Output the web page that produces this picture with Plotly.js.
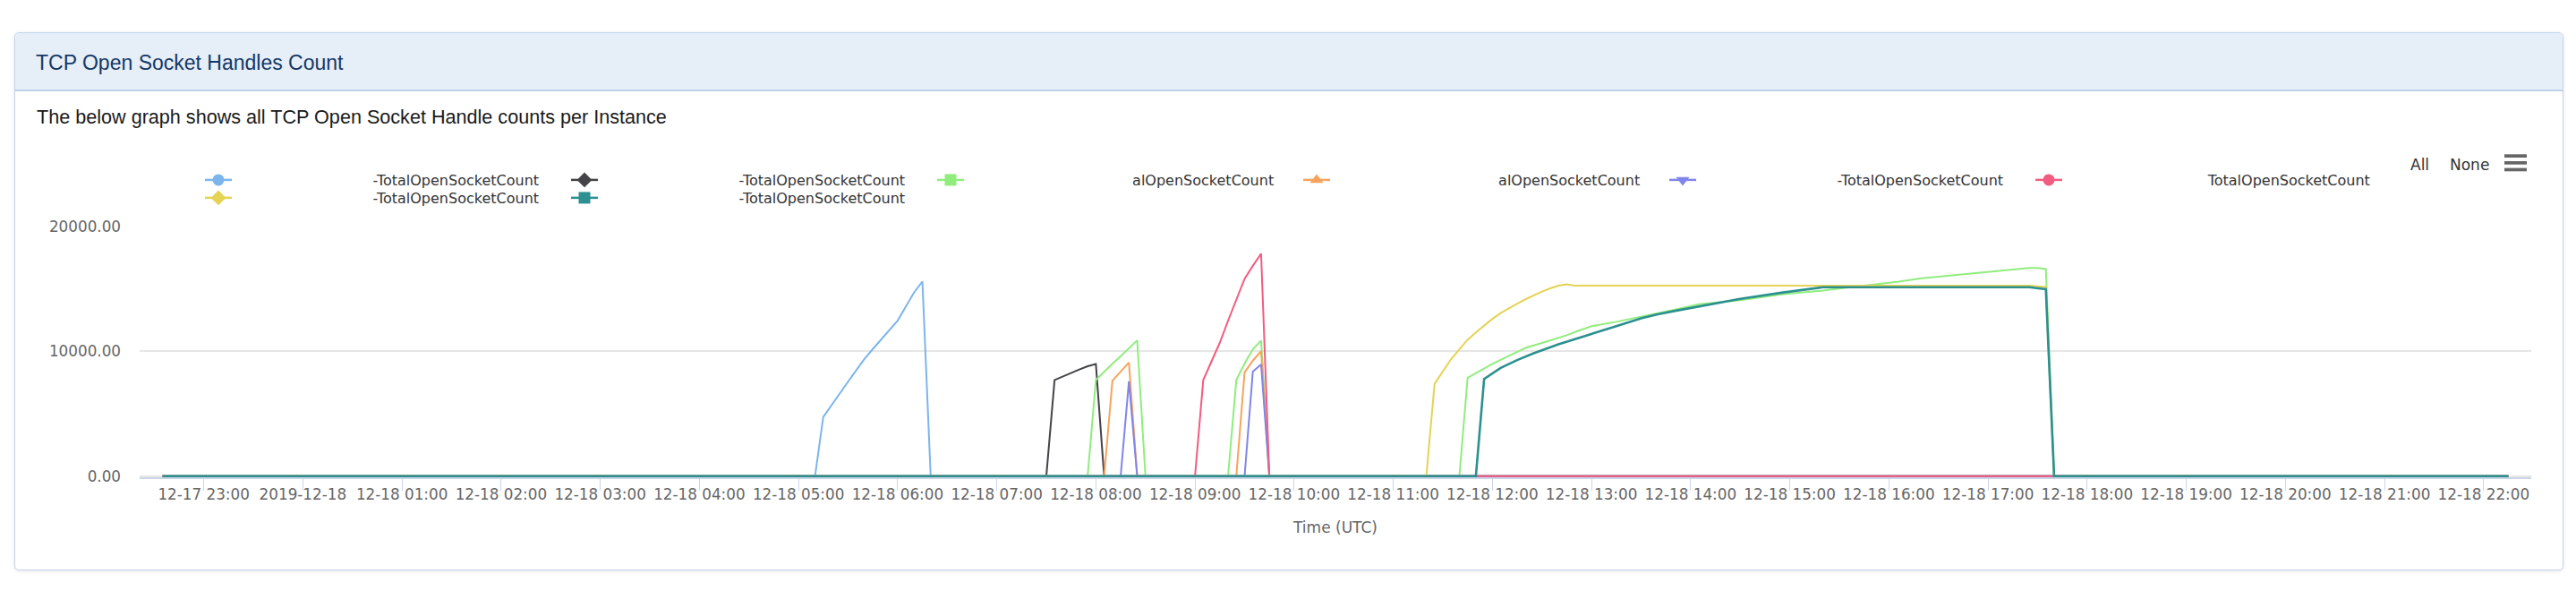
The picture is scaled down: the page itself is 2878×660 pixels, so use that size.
<!DOCTYPE html>
<html><head><meta charset="utf-8">
<script src="https://cdn.plot.ly/plotly-3.0.1.min.js"></script>
<style>
html,body{margin:0;padding:0;background:#fff;width:2878px;height:660px;overflow:hidden;}
#panel{position:absolute;left:16px;top:36px;width:2846px;height:599px;border:1px solid #c4d4ea;border-radius:5px;box-shadow:0 1px 4px rgba(0,0,0,0.10);background:#fff;}
#head{position:absolute;left:0;top:0;right:0;height:63px;background:#e6eef8;border-bottom:2px solid #bcd0e9;border-radius:5px 5px 0 0;}
#chart{position:absolute;left:0;top:0;width:2878px;height:660px;}
</style></head>
<body>
<div id="panel"><div id="head"></div></div>
<div id="chart"></div>
<script>
// ---------------- data ----------------
const seriesNames = ['Series 1','Series 2','Series 3','Series 4','Series 5','Series 6','Series 7','Series 8'];
const legendSuffix = ['-TotalOpenSocketCount','-TotalOpenSocketCount','alOpenSocketCount','alOpenSocketCount',
                      '-TotalOpenSocketCount','TotalOpenSocketCount','-TotalOpenSocketCount','-TotalOpenSocketCount'];

const blueTime = ['2019-12-17 22:35','2019-12-18 05:10','2019-12-18 05:15','2019-12-18 05:20','2019-12-18 05:25','2019-12-18 05:30','2019-12-18 05:35','2019-12-18 05:40','2019-12-18 05:45','2019-12-18 05:50','2019-12-18 05:55','2019-12-18 06:00','2019-12-18 06:05','2019-12-18 06:10','2019-12-18 06:15','2019-12-18 06:20','2019-12-18 22:15'];
const blueVal  = [0,0,4740,5710,6680,7570,8490,9410,10190,10960,11740,12460,13600,14730,15600,0,0];

const blackTime = ['2019-12-17 22:35','2019-12-18 07:30','2019-12-18 07:35','2019-12-18 07:40','2019-12-18 07:45','2019-12-18 07:50','2019-12-18 07:55','2019-12-18 08:00','2019-12-18 08:05','2019-12-18 22:15'];
const blackVal  = [0,0,7710,8000,8260,8550,8810,8980,0,0];

const greenTime = ['2019-12-17 22:35','2019-12-18 07:55','2019-12-18 08:00','2019-12-18 08:05','2019-12-18 08:10','2019-12-18 08:15','2019-12-18 08:20','2019-12-18 08:25','2019-12-18 08:30',
  '2019-12-18 09:20','2019-12-18 09:25','2019-12-18 09:30','2019-12-18 09:35','2019-12-18 09:40','2019-12-18 09:45',
  '2019-12-18 11:40','2019-12-18 11:45','2019-12-18 11:55','2019-12-18 12:00','2019-12-18 12:10','2019-12-18 12:20','2019-12-18 12:30','2019-12-18 12:45','2019-12-18 12:50','2019-12-18 13:00','2019-12-18 13:15','2019-12-18 13:35','2019-12-18 13:50','2019-12-18 14:05','2019-12-18 14:30','2019-12-18 14:55','2019-12-18 15:20','2019-12-18 15:40','2019-12-18 16:05','2019-12-18 16:20','2019-12-18 16:50','2019-12-18 17:20','2019-12-18 17:25','2019-12-18 17:30','2019-12-18 17:35','2019-12-18 17:40','2019-12-18 22:15'];
const greenVal  = [0,0,7710,8380,9000,9620,10260,10880,0,
  0,7710,9020,10170,10860,0,
  0,7880,8600,9000,9650,10280,10680,11290,11550,12020,12370,12900,13330,13780,14100,14570,14870,15200,15570,15850,16230,16640,16690,16690,16600,0,0];

const orangeTime = ['2019-12-17 22:35','2019-12-18 08:05','2019-12-18 08:10','2019-12-18 08:15','2019-12-18 08:20','2019-12-18 08:25','2019-12-18 09:25','2019-12-18 09:30','2019-12-18 09:35','2019-12-18 09:40','2019-12-18 09:45','2019-12-18 22:15'];
const orangeVal  = [0,0,7650,8380,9100,0,0,8310,9260,10020,0,0];

const violetTime = ['2019-12-17 22:35','2019-12-18 08:15','2019-12-18 08:20','2019-12-18 08:25','2019-12-18 09:30','2019-12-18 09:35','2019-12-18 09:40','2019-12-18 09:45','2019-12-18 22:15'];
const violetVal  = [0,0,7600,0,0,8380,8950,0,0];

const pinkTime = ['2019-12-17 22:35','2019-12-18 09:00','2019-12-18 09:05','2019-12-18 09:10','2019-12-18 09:15','2019-12-18 09:20','2019-12-18 09:25','2019-12-18 09:30','2019-12-18 09:35','2019-12-18 09:40','2019-12-18 09:45','2019-12-18 22:15'];
const pinkVal  = [0,0,7710,9150,10690,12450,14140,15810,16850,17830,0,0];

const yellowTime = ['2019-12-17 22:35','2019-12-18 11:20','2019-12-18 11:25','2019-12-18 11:30','2019-12-18 11:35','2019-12-18 11:40','2019-12-18 11:45','2019-12-18 11:50','2019-12-18 11:55','2019-12-18 12:00','2019-12-18 12:05','2019-12-18 12:10','2019-12-18 12:15','2019-12-18 12:20','2019-12-18 12:25','2019-12-18 12:30','2019-12-18 12:35','2019-12-18 12:40','2019-12-18 12:45','2019-12-18 12:50','2019-12-18 17:25','2019-12-18 17:30','2019-12-18 17:35','2019-12-18 17:40','2019-12-18 22:15'];
const yellowVal  = [0,0,7400,8430,9380,10170,10930,11520,12070,12600,13070,13480,13830,14170,14500,14790,15050,15260,15380,15260,15260,15220,15170,0,0];

const tealTime = ['2019-12-17 22:35','2019-12-18 11:50','2019-12-18 11:55','2019-12-18 12:05','2019-12-18 12:15','2019-12-18 12:25','2019-12-18 12:40','2019-12-18 12:50','2019-12-18 13:05','2019-12-18 13:15','2019-12-18 13:30','2019-12-18 13:40','2019-12-18 13:50','2019-12-18 14:05','2019-12-18 14:30','2019-12-18 14:55','2019-12-18 15:20','2019-12-18 17:25','2019-12-18 17:35','2019-12-18 17:40','2019-12-18 22:15'];
const tealVal  = [0,0,7790,8670,9300,9850,10570,11000,11640,12020,12640,12970,13230,13600,14210,14700,15140,15140,14980,0,0];

const tickVals = ['2019-12-17 23:00','2019-12-18 00:00','2019-12-18 01:00','2019-12-18 02:00','2019-12-18 03:00','2019-12-18 04:00','2019-12-18 05:00','2019-12-18 06:00','2019-12-18 07:00','2019-12-18 08:00','2019-12-18 09:00','2019-12-18 10:00','2019-12-18 11:00','2019-12-18 12:00','2019-12-18 13:00','2019-12-18 14:00','2019-12-18 15:00','2019-12-18 16:00','2019-12-18 17:00','2019-12-18 18:00','2019-12-18 19:00','2019-12-18 20:00','2019-12-18 21:00','2019-12-18 22:00'];
const tickText = ['12-17 23:00','2019-12-18','12-18 01:00','12-18 02:00','12-18 03:00','12-18 04:00','12-18 05:00','12-18 06:00','12-18 07:00','12-18 08:00','12-18 09:00','12-18 10:00','12-18 11:00','12-18 12:00','12-18 13:00','12-18 14:00','12-18 15:00','12-18 16:00','12-18 17:00','12-18 18:00','12-18 19:00','12-18 20:00','12-18 21:00','12-18 22:00'];
const yTicks = [0, 10000, 20000];

// ---------------- style ----------------
const colors  = ['#7cb5ec','#434348','#90ed7d','#f7a35c','#8085e9','#f15c80','#e4d354','#2b908f'];
const symbols = ['circle','diamond','square','triangle-up','triangle-down','circle','diamond','square'];
const widths  = [2,2,2,2,2,2,2,2.6];
const legendPad = [30,30,36,36,30,31,30,30];
const legendOf  = ['legend','legend','legend','legend','legend','legend','legend2','legend2'];
const allTimes = [blueTime,blackTime,greenTime,orangeTime,violetTime,pinkTime,yellowTime,tealTime];
const allVals  = [blueVal,blackVal,greenVal,orangeVal,violetVal,pinkVal,yellowVal,tealVal];

const W = 2878, H = 660, ML = 156, MR = 50, MT = 253, MB = 127;
const PW = W - ML - MR, PH = H - MT - MB;
const px = X => (X - ML) / PW;
const py = Y => (H - MB - Y) / PH;

const axFont = 'DejaVu Sans, Verdana, sans-serif';
const traces = [];
for (let i = 0; i < 8; i++) {
  traces.push({
    type: 'scatter', mode: 'lines', name: seriesNames[i],
    x: allTimes[i], y: allVals[i],
    line: {color: colors[i], width: widths[i]},
    legendgroup: 's' + i, showlegend: false, hoverinfo: 'x+y'
  });
}
for (let i = 0; i < 8; i++) {
  traces.push({
    type: 'scatter', mode: 'lines+markers',
    name: '\u00a0'.repeat(legendPad[i]) + legendSuffix[i],
    x: [null], y: [null],
    line: {color: colors[i], width: 2.5},
    marker: {color: colors[i], symbol: symbols[i], size: 13},
    legendgroup: 's' + i, showlegend: true, legend: legendOf[i]
  });
}

const legendBase = {
  orientation: 'h', xanchor: 'left', yanchor: 'top',
  x: px(224), entrywidth: 364, entrywidthmode: 'pixels',
  font: {family: axFont, size: 16, color: '#333333'},
  bgcolor: 'rgba(0,0,0,0)', borderwidth: 0, itemwidth: 30
};

const bar = (Y0, Y1) => ({type: 'rect', xref: 'paper', yref: 'paper',
  x0: px(2798), x1: px(2823), y0: py(Y1), y1: py(Y0),
  fillcolor: '#666666', line: {width: 0}});

const layout = {
  width: W, height: H,
  margin: {l: ML, r: MR, t: MT, b: MB, pad: 0},
  paper_bgcolor: 'rgba(0,0,0,0)', plot_bgcolor: 'rgba(0,0,0,0)',
  title: {text: 'TCP Open Socket Handles Count', x: 40 / W, xref: 'container', xanchor: 'left',
          y: 1 - 70 / H, yref: 'container', yanchor: 'middle',
          font: {family: 'Liberation Sans, Arial, sans-serif', size: 23, color: '#143866'}},
  showlegend: true,
  legend: Object.assign({}, legendBase, {y: py(184)}),
  legend2: Object.assign({}, legendBase, {y: py(204)}),
  xaxis: {
    type: 'date', range: ['2019-12-17 22:21:12', '2019-12-18 22:28:48'],
    tickmode: 'array', tickvals: tickVals, ticktext: tickText, tickangle: 0,
    ticks: 'outside', ticklen: 13, tickwidth: 1, tickcolor: '#ccd6eb',
    ticklabelstandoff: -10,
    showline: true, linecolor: '#ccd6eb', linewidth: 2,
    showgrid: false, zeroline: false,
    tickfont: {family: axFont, size: 16.8, color: '#666666'},
    title: {text: 'Time (UTC)', standoff: 22, font: {family: axFont, size: 17, color: '#666666'}}
  },
  yaxis: {
    range: [-86, 20000], tickmode: 'array', tickvals: yTicks, tickformat: '.2f',
    showgrid: true, gridcolor: '#e6e6e6', gridwidth: 2, zeroline: false, showline: false,
    ticks: '', ticklabelstandoff: 20,
    tickfont: {family: axFont, size: 16.8, color: '#666666'}
  },
  annotations: [
    {text: 'The below graph shows all TCP Open Socket Handle counts per Instance', xref: 'paper', yref: 'paper',
     x: px(39), y: py(130), xanchor: 'left', yanchor: 'middle', showarrow: false,
     font: {family: 'Liberation Sans, Arial, sans-serif', size: 21.6, color: '#1a1a1a'}},
    {text: 'All', xref: 'paper', yref: 'paper', x: px(2691), y: py(184), xanchor: 'left', yanchor: 'middle',
     showarrow: false, font: {family: axFont, size: 17, color: '#333333'}},
    {text: 'None', xref: 'paper', yref: 'paper', x: px(2735), y: py(184), xanchor: 'left', yanchor: 'middle',
     showarrow: false, font: {family: axFont, size: 17, color: '#333333'}}
  ],
  shapes: [bar(172.3, 176), bar(180, 183.7), bar(187.6, 191.3)],
  hovermode: 'closest'
};

Plotly.newPlot('chart', traces, layout, {displayModeBar: false, responsive: false});
</script>
</body></html>
